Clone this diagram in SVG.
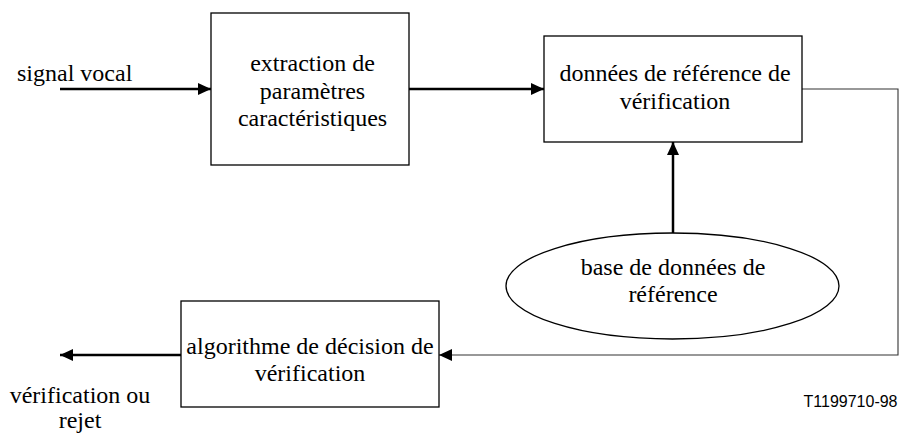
<svg xmlns="http://www.w3.org/2000/svg" width="899" height="433" viewBox="0 0 899 433">
  <style>
    .box { fill: #fff; stroke: #000; stroke-width: 1.3; }
    .thick { stroke: #000; stroke-width: 2.5; fill: none; }
    .thin { stroke: #333; stroke-width: 1.1; fill: none; }
    .t { font-family: 'Liberation Serif', 'Times New Roman', serif; font-size: 24px; fill: #000; text-anchor: middle; }
    .code { font-family: 'Liberation Sans', Arial, sans-serif; font-size: 16px; fill: #000; text-anchor: end; }
  </style>
  <defs>
    <marker id="arr" viewBox="0 0 13 12" refX="13" refY="6" markerWidth="13" markerHeight="12" markerUnits="userSpaceOnUse" orient="auto">
      <path d="M0,0 L13,6 L0,12 Z" fill="#000"/>
    </marker>
  </defs>
  <rect width="899" height="433" fill="#fff"/>

  <g id="connectors">
    <line class="thick" x1="60" y1="89" x2="211" y2="89" marker-end="url(#arr)"/>
    <line class="thick" x1="409" y1="89" x2="544" y2="89" marker-end="url(#arr)"/>
    <line class="thick" x1="673" y1="233" x2="673" y2="142" marker-end="url(#arr)"/>
    <polyline class="thin" points="802,89 898,89 898,355 452,355"/>
    <line class="thin" x1="452" y1="355" x2="439" y2="355" marker-end="url(#arr)"/>
    <line class="thick" x1="181" y1="355" x2="60" y2="355" marker-end="url(#arr)"/>
  </g>

  <g id="input-label">
    <text class="t" x="17" y="81" style="text-anchor:start">signal vocal</text>
  </g>

  <g id="extraction">
    <rect class="box" x="211" y="13" width="198" height="152"/>
    <text class="t" x="312.5" y="71">extraction de</text>
    <text class="t" x="312.5" y="98.5">paramètres</text>
    <text class="t" x="312.5" y="126">caractéristiques</text>
  </g>

  <g id="reference-data">
    <rect class="box" x="544" y="36" width="258" height="106"/>
    <text class="t" x="675" y="81">données de référence de</text>
    <text class="t" x="675" y="108.5">vérification</text>
  </g>

  <g id="reference-db">
    <ellipse class="box" cx="672.5" cy="286" rx="166.5" ry="53"/>
    <text class="t" x="673" y="275">base de données de</text>
    <text class="t" x="673" y="302">référence</text>
  </g>

  <g id="decision">
    <rect class="box" x="181" y="301" width="258" height="106"/>
    <text class="t" x="310" y="353.5">algorithme de décision de</text>
    <text class="t" x="310" y="381">vérification</text>
  </g>

  <g id="output-label">
    <text class="t" x="80" y="403">vérification ou</text>
    <text class="t" x="80" y="428">rejet</text>
  </g>

  <text class="code" x="897.5" y="407">T1199710-98</text>
</svg>
